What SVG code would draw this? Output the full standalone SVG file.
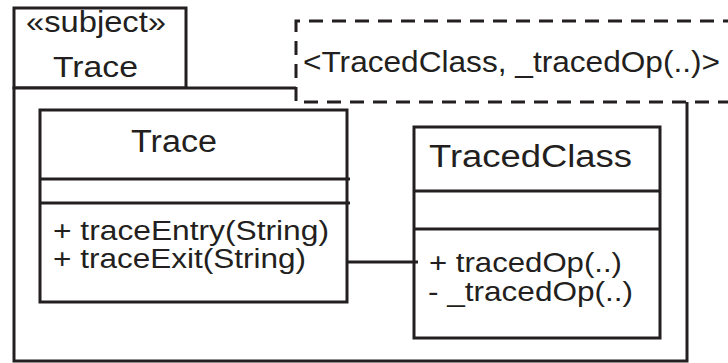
<svg xmlns="http://www.w3.org/2000/svg" width="728" height="363" viewBox="0 0 728 363">
  <style>
    .line { fill: none; stroke: #231f20; stroke-width: 3; }
    .box { fill: #ffffff; stroke: #231f20; stroke-width: 3; }
    .dashed { fill: #ffffff; stroke: #231f20; stroke-width: 3; stroke-dasharray: 14 9; stroke-dashoffset: 10; }
    text { font-family: "Liberation Sans", Arial, Helvetica, sans-serif; fill: #231f20; font-size: 30px; }
    .title { font-size: 31px; }
    .member { font-size: 27.5px; }
  </style>

  <!-- Subject package "Trace" -->
  <g id="package-trace">
    <rect class="box" x="14" y="8" width="172" height="80"/>
    <rect class="box" x="14" y="88" width="673" height="273"/>
    <text x="26" y="32" textLength="140" lengthAdjust="spacingAndGlyphs">«subject»</text>
    <text x="53" y="77" textLength="85" lengthAdjust="spacingAndGlyphs">Trace</text>
  </g>

  <!-- Template parameters -->
  <g id="template-parameters">
    <rect class="dashed" x="296" y="21" width="460" height="81"/>
    <text x="303" y="72" textLength="417" lengthAdjust="spacingAndGlyphs">&lt;TracedClass, _tracedOp(..)&gt;</text>
  </g>

  <!-- Class Trace -->
  <g id="class-trace">
    <rect class="box" x="40" y="110" width="307" height="192"/>
    <line class="line" x1="40" y1="179" x2="350" y2="179"/>
    <line class="line" x1="40" y1="203" x2="350" y2="203"/>
    <text class="title" x="131" y="152" textLength="86" lengthAdjust="spacingAndGlyphs">Trace</text>
    <text class="member" x="53" y="240" textLength="276" lengthAdjust="spacingAndGlyphs">+ traceEntry(String)</text>
    <text class="member" x="53" y="268" textLength="253" lengthAdjust="spacingAndGlyphs">+ traceExit(String)</text>
  </g>

  <!-- Class TracedClass -->
  <g id="class-tracedclass">
    <rect class="box" x="414" y="127" width="246" height="211"/>
    <line class="line" x1="414" y1="191" x2="660" y2="191"/>
    <line class="line" x1="414" y1="229" x2="660" y2="229"/>
    <text class="title" x="429" y="167" textLength="203" lengthAdjust="spacingAndGlyphs">TracedClass</text>
    <text class="member" x="429" y="272" textLength="193" lengthAdjust="spacingAndGlyphs">+ tracedOp(..)</text>
    <text class="member" x="428" y="301" textLength="205" lengthAdjust="spacingAndGlyphs">- _tracedOp(..)</text>
  </g>

  <!-- Connectors -->
  <g id="connectors">
    <line class="line" x1="347" y1="262" x2="418" y2="262"/>
  </g>
</svg>
